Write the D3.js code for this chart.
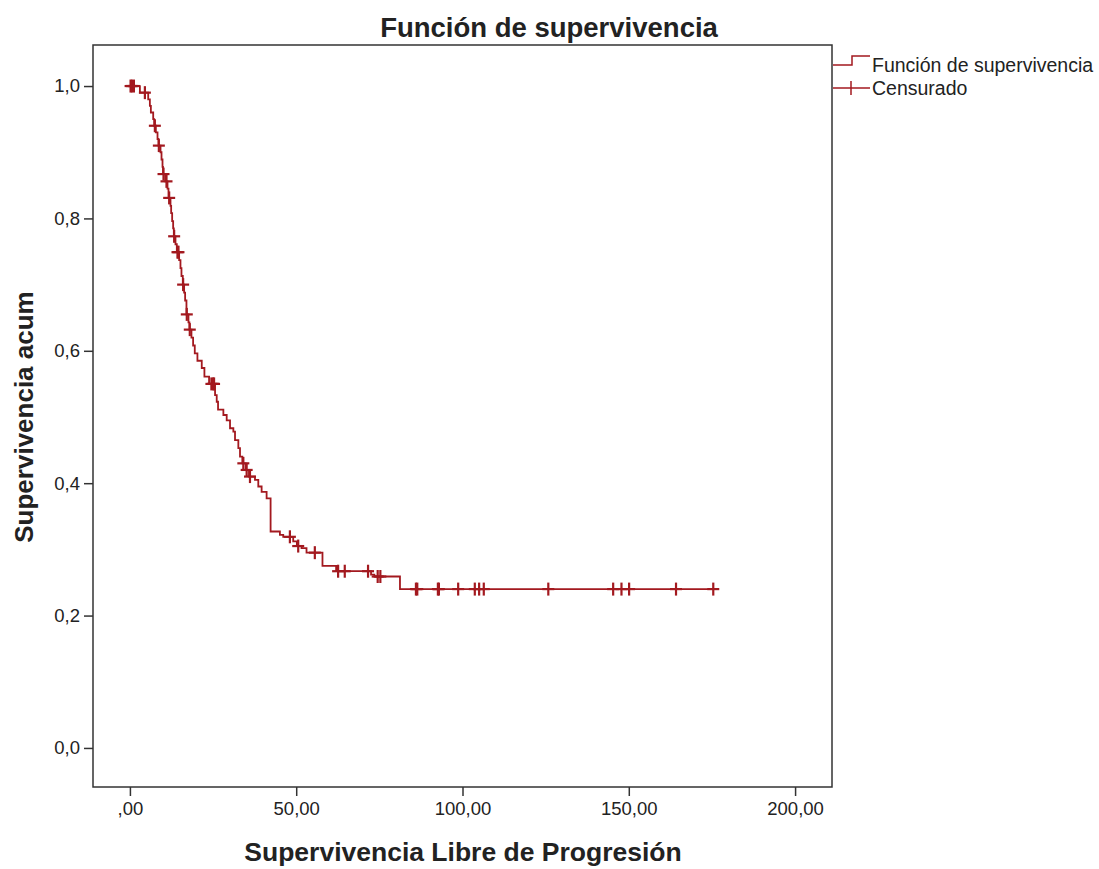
<!DOCTYPE html>
<html>
<head>
<meta charset="utf-8">
<script src="https://cdn.jsdelivr.net/npm/d3@7"></script>
<style>
  html, body { margin: 0; padding: 0; background: #fff; }
  svg { display: block; }
  text { font-family: "Liberation Sans", Arial, sans-serif; }
</style>
</head>
<body>
<script>
// ---------- data ----------
const chartTitle = "Función de supervivencia";
const xAxisTitle = "Supervivencia Libre de Progresión";
const yAxisTitle = "Supervivencia acum";
const legendLabels = ["Función de supervivencia", "Censurado"];

// Kaplan-Meier event times and survival after each event
const eventTimes = [3.0, 5.5, 6.0, 6.3, 7.0, 7.3, 7.8, 8.3, 8.6, 9.2, 9.5, 9.8, 9.95, 10.6, 11.3, 11.6,
  12.2, 12.4, 12.7, 13.0, 13.2, 13.7, 14.1, 14.8, 15.2, 15.5, 15.9, 16.3, 16.6, 17.0, 17.6, 17.9,
  18.5, 19.0, 19.5, 20.3, 21.6, 22.4, 23.8, 25.6, 26.1, 26.5, 28.1, 29.1, 30.1, 31.1, 31.6, 32.6,
  33.1, 33.8, 34.8, 35.8, 37.6, 38.6, 39.6, 41.1, 42.3, 45.1, 46.1, 49.1, 50.2, 51.6, 53.1, 57.9,
  62.0, 72.5, 73.5, 81.2];
const survivalValues = [0.990, 0.980, 0.970, 0.960, 0.950, 0.940, 0.930, 0.920, 0.910, 0.900, 0.889, 0.878, 0.867, 0.856, 0.845, 0.831,
  0.819, 0.808, 0.796, 0.785, 0.773, 0.761, 0.749, 0.737, 0.725, 0.713, 0.700, 0.688, 0.676, 0.655, 0.643, 0.632,
  0.620, 0.608, 0.596, 0.585, 0.574, 0.561, 0.550, 0.533, 0.523, 0.511, 0.503, 0.495, 0.483, 0.478, 0.465, 0.453,
  0.440, 0.430, 0.420, 0.410, 0.405, 0.395, 0.387, 0.377, 0.327, 0.322, 0.319, 0.312, 0.305, 0.302, 0.295, 0.275,
  0.267, 0.262, 0.259, 0.240];
// censored observation times
const censorTimes = [0.2, 0.6, 1.2, 4.5, 7.5, 8.7, 10.1, 11.0, 11.8, 13.3, 14.3, 14.6, 16.0, 17.1, 18.0,
  24.5, 25.0, 25.3, 34.1, 35.1, 36.1, 48.1, 50.6, 55.6, 62.6, 64.6, 71.6, 74.5, 75.3,
  86.0, 86.4, 92.6, 92.9, 98.7, 103.7, 105.0, 106.4, 125.8, 145.3, 147.8, 150.1, 164.2, 175.4];

const xTickValues = [0, 50, 100, 150, 200];
const xTickLabels = [",00", "50,00", "100,00", "150,00", "200,00"];
const yTickValues = [0, 0.2, 0.4, 0.6, 0.8, 1.0];
const yTickLabels = ["0,0", "0,2", "0,4", "0,6", "0,8", "1,0"];

// ---------- layout ----------
const W = 1099, H = 869;
const box = { left: 93, right: 832, top: 45, bottom: 787 };
const curveColor = "#a3191f";
const inkColor = "#222";

const svg = d3.select("body").append("svg").attr("width", W).attr("height", H);

const x = d3.scaleLinear().domain([-11.1, 211.1]).range([box.left, box.right]);
const y = d3.scaleLinear().domain([-0.059, 1.062]).range([box.bottom, box.top]);

// frame
svg.append("rect")
  .attr("x", box.left).attr("y", box.top)
  .attr("width", box.right - box.left).attr("height", box.bottom - box.top)
  .attr("fill", "none").attr("stroke", "#333").attr("stroke-width", 1.5);

// axes
const xAxis = d3.axisBottom(x).tickValues(xTickValues)
  .tickFormat((d, i) => xTickLabels[i]).tickSize(9).tickSizeOuter(0).tickPadding(6);
const gx = svg.append("g").attr("transform", `translate(0,${box.bottom})`).call(xAxis);
gx.select(".domain").remove();
gx.selectAll(".tick line").attr("stroke", "#333").attr("stroke-width", 1.5);
gx.selectAll(".tick text").attr("fill", inkColor).style("font-size", "18.5px");

const yAxis = d3.axisLeft(y).tickValues(yTickValues)
  .tickFormat((d, i) => yTickLabels[i]).tickSize(9).tickSizeOuter(0).tickPadding(4);
const gy = svg.append("g").attr("transform", `translate(${box.left},0)`).call(yAxis);
gy.select(".domain").remove();
gy.selectAll(".tick line").attr("stroke", "#333").attr("stroke-width", 1.5);
gy.selectAll(".tick text").attr("fill", inkColor).style("font-size", "18.5px");

// titles
svg.append("text").attr("x", 549).attr("y", 37).attr("text-anchor", "middle")
  .attr("font-weight", "bold").attr("fill", inkColor).style("font-size", "27.5px").text(chartTitle);
svg.append("text").attr("x", 463).attr("y", 861).attr("text-anchor", "middle")
  .attr("font-weight", "bold").attr("fill", inkColor).style("font-size", "26.5px").text(xAxisTitle);
svg.append("text").attr("transform", "translate(33,417) rotate(-90)").attr("text-anchor", "middle")
  .attr("font-weight", "bold").attr("fill", inkColor).style("font-size", "26px").text(yAxisTitle);

// KM step curve
const lastT = d3.max(censorTimes.concat(eventTimes));
const steps = [{ t: 0, s: 1 }].concat(eventTimes.map((t, i) => ({ t, s: survivalValues[i] })));
steps.push({ t: lastT, s: steps[steps.length - 1].s });
const line = d3.line().x(d => x(d.t)).y(d => y(d.s)).curve(d3.curveStepAfter);
svg.append("path").datum(steps).attr("d", line)
  .attr("fill", "none").attr("stroke", curveColor).attr("stroke-width", 1.8);

// survival at time t (right-continuous step)
function survAt(t) {
  let s = 1;
  for (let i = 0; i < eventTimes.length; i++) { if (eventTimes[i] <= t) s = survivalValues[i]; }
  return s;
}
const cg = svg.append("g").attr("stroke", curveColor).attr("stroke-width", 2.2);
censorTimes.forEach(t => {
  const cx = x(t), cy = y(survAt(t));
  cg.append("line").attr("x1", cx - 6).attr("x2", cx + 6).attr("y1", cy).attr("y2", cy);
  cg.append("line").attr("x1", cx).attr("x2", cx).attr("y1", cy - 6.5).attr("y2", cy + 6.5);
});

// legend
const lg = svg.append("g");
lg.append("path").attr("d", "M833,65H852V56H870")
  .attr("fill", "none").attr("stroke", curveColor).attr("stroke-width", 1.5);
lg.append("line").attr("x1", 833).attr("x2", 870).attr("y1", 88).attr("y2", 88)
  .attr("stroke", curveColor).attr("stroke-width", 1.5);
lg.append("line").attr("x1", 851).attr("x2", 851).attr("y1", 81).attr("y2", 95)
  .attr("stroke", curveColor).attr("stroke-width", 1.5);
lg.append("text").attr("x", 872).attr("y", 72).attr("fill", inkColor).style("font-size", "19.5px").text(legendLabels[0]);
lg.append("text").attr("x", 872).attr("y", 95).attr("fill", inkColor).style("font-size", "19.5px").text(legendLabels[1]);
</script>
</body>
</html>
